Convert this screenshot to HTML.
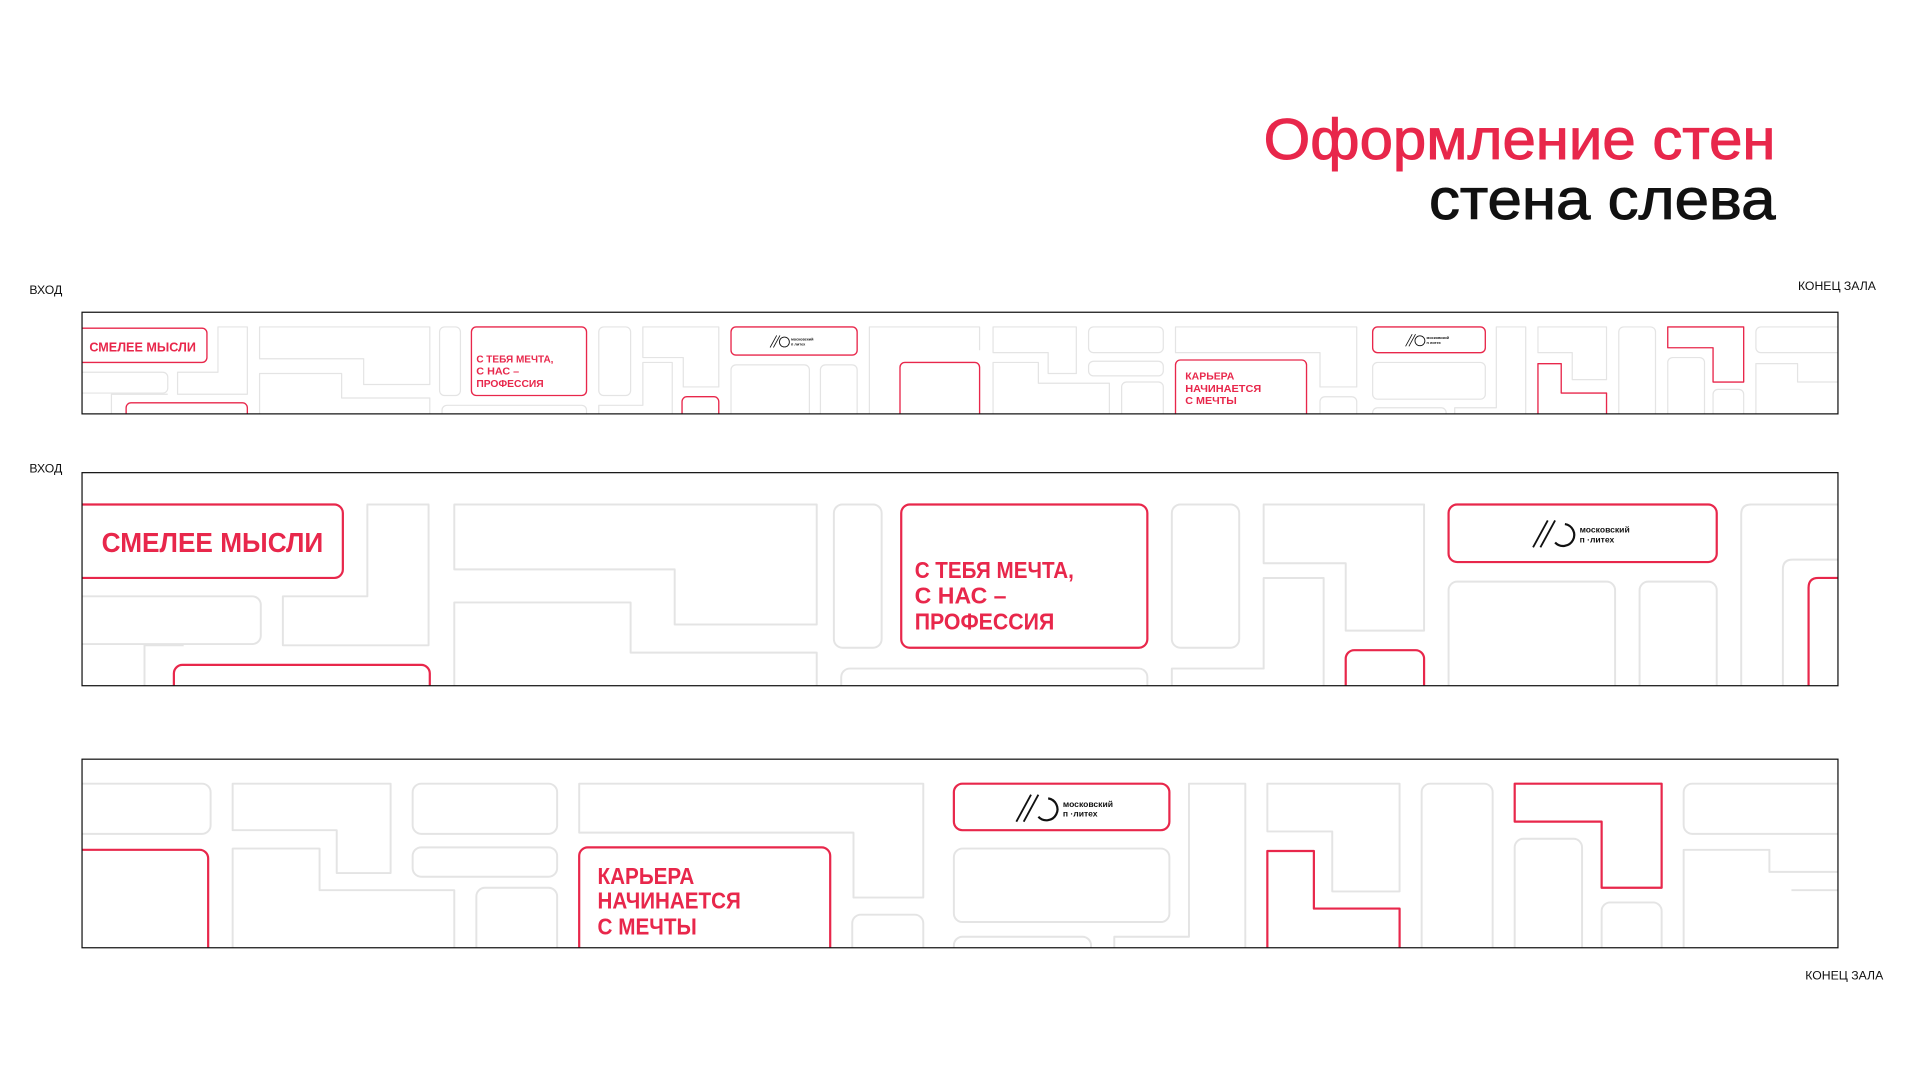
<!DOCTYPE html>
<html><head><meta charset="utf-8"><style>
html,body{margin:0;padding:0;background:#fff;}
svg{display:block}
.g{fill:none;stroke:#e4e4e4;stroke-width:1.6;stroke-linejoin:round}
.g1{fill:none;stroke:#e4e4e4;stroke-width:1;stroke-linejoin:round}
.r{fill:none;stroke:#e8274b;stroke-width:1.8;stroke-linejoin:round}
.r1{fill:none;stroke:#e8274b;stroke-width:1.1;stroke-linejoin:round}
.t{font-family:"Liberation Sans",sans-serif;font-weight:bold;fill:#e8274b}
.lbl{font-family:"Liberation Sans",sans-serif;font-size:10px;fill:#111}
</style></head><body>
<svg width="1920" height="1080" viewBox="0 0 1568 882" xmlns="http://www.w3.org/2000/svg">
<defs>
<clipPath id="c1"><rect x="67" y="255" width="1434" height="83"/></clipPath>
<clipPath id="c2"><rect x="67" y="386" width="1434" height="174"/></clipPath>
<clipPath id="c3"><rect x="67" y="620" width="1434" height="154"/></clipPath>
</defs>

<text x="1032" y="130" textLength="418" lengthAdjust="spacingAndGlyphs" font-family="Liberation Sans, sans-serif" font-size="47" fill="#e8274b" stroke="#e8274b" stroke-width="0.8">Оформление стен</text>
<text x="1167" y="179" textLength="283" lengthAdjust="spacingAndGlyphs" font-family="Liberation Sans, sans-serif" font-size="47" fill="#111" stroke="#111" stroke-width="0.8">стена слева</text>

<text class="lbl" x="24" y="240">ВХОД</text>
<text class="lbl" x="1532" y="237" text-anchor="end">КОНЕЦ ЗАЛА</text>
<text class="lbl" x="24" y="386">ВХОД</text>
<text class="lbl" x="1538" y="800" text-anchor="end">КОНЕЦ ЗАЛА</text>

<!-- PANEL 1 -->
<g clip-path="url(#c1)">
<rect class="r1" x="60" y="268" width="109" height="28" rx="4"/>
<text class="t" x="73" y="287" font-size="10.5" textLength="87" lengthAdjust="spacingAndGlyphs">СМЕЛЕЕ МЫСЛИ</text>
<rect class="g1" x="60" y="304" width="77" height="17" rx="4"/>
<path class="g1" d="M178 267H202V322H145V304H178Z"/>
<path class="g1" d="M91 345V322H137"/>
<rect class="r1" x="103" y="329" width="99" height="20" rx="4"/>
<path class="g1" d="M212 267H351V314H297V293H212Z"/>
<path class="g1" d="M212 345V305H279V325H351V345"/>
<rect class="g1" x="359" y="267" width="17" height="56" rx="4"/>
<rect class="g1" x="361" y="331" width="118" height="20" rx="4"/>
<rect class="r1" x="385" y="267" width="94" height="56" rx="4"/>
<text class="t" font-size="8.6"><tspan x="389" y="296" textLength="63" lengthAdjust="spacingAndGlyphs">С ТЕБЯ МЕЧТА,</tspan><tspan x="389" y="306" textLength="35" lengthAdjust="spacingAndGlyphs">С НАС –</tspan><tspan x="389" y="316" textLength="55" lengthAdjust="spacingAndGlyphs">ПРОФЕССИЯ</tspan></text>
<rect class="g1" x="489" y="267" width="26" height="56" rx="4"/>
<path class="g1" d="M525 267H587V316H558V292H525Z"/>
<path class="g1" d="M489 345V331H525V296H549V345"/>
<rect class="r1" x="557" y="324" width="30" height="25" rx="4"/>
<rect class="r1" x="597" y="267" width="103" height="23" rx="4"/>
<g transform="translate(628,273) scale(0.45)"><line x1="2" y1="24" x2="14" y2="2" stroke="#111" stroke-width="1.5"/><line x1="8" y1="24" x2="20" y2="2" stroke="#111" stroke-width="1.5"/><circle cx="28" cy="14" r="9" fill="none" stroke="#111" stroke-width="1.6"/><text x="40" y="11" font-size="7" font-family="Liberation Sans" font-weight="bold" fill="#111">московский</text><text x="40" y="20" font-size="7" font-family="Liberation Sans" font-weight="bold" fill="#111">п литех</text></g>
<rect class="g1" x="597" y="298" width="64" height="50" rx="4"/>
<rect class="g1" x="670" y="298" width="30" height="50" rx="4"/>
<path class="g1" d="M710 345V267H800V286"/>
<rect class="r1" x="735" y="296" width="65" height="55" rx="4"/>
<path class="g1" d="M811 267H879V305H856V288H811Z"/>
<path class="g1" d="M811 345V296H848V313H906V345"/>
<rect class="g1" x="889" y="267" width="61" height="21" rx="4"/>
<rect class="g1" x="889" y="295" width="61" height="12" rx="4"/>
<rect class="g1" x="916" y="312" width="34" height="40" rx="4"/>
<path class="g1" d="M960 267H1108V316H1078V288H960Z"/>
<rect class="r1" x="960" y="294" width="107" height="60" rx="4"/>
<text class="t" font-size="8.6"><tspan x="968" y="310" textLength="40" lengthAdjust="spacingAndGlyphs">КАРЬЕРА</tspan><tspan x="968" y="320" textLength="62" lengthAdjust="spacingAndGlyphs">НАЧИНАЕТСЯ</tspan><tspan x="968" y="330" textLength="42" lengthAdjust="spacingAndGlyphs">С МЕЧТЫ</tspan></text>
<rect class="g1" x="1078" y="324" width="30" height="30" rx="4"/>
<rect class="r1" x="1121" y="267" width="92" height="21" rx="4"/>
<g transform="translate(1147,272) scale(0.45)"><line x1="2" y1="24" x2="14" y2="2" stroke="#111" stroke-width="1.5"/><line x1="8" y1="24" x2="20" y2="2" stroke="#111" stroke-width="1.5"/><circle cx="28" cy="14" r="9" fill="none" stroke="#111" stroke-width="1.6"/><text x="40" y="11" font-size="7" font-family="Liberation Sans" font-weight="bold" fill="#111">московский</text><text x="40" y="20" font-size="7" font-family="Liberation Sans" font-weight="bold" fill="#111">п литех</text></g>
<rect class="g1" x="1121" y="296" width="92" height="30" rx="4"/>
<rect class="g1" x="1121" y="333" width="60" height="20" rx="4"/>
<path class="g1" d="M1188 345V333H1222V267H1246V345"/>
<path class="g1" d="M1256 267H1312V310H1284V288H1256Z"/>
<path class="r1" d="M1256 345V297H1275V321H1312V345"/>
<rect class="g1" x="1322" y="267" width="30" height="85" rx="4"/>
<path class="r1" d="M1362 267H1424V312H1399V284H1362Z"/>
<rect class="g1" x="1362" y="292" width="30" height="60" rx="4"/>
<rect class="g1" x="1399" y="318" width="25" height="35" rx="4"/>
<rect class="g1" x="1434" y="267" width="80" height="21" rx="4"/>
<path class="g1" d="M1434 345V297H1468V312H1510"/>
</g>
<rect x="67" y="255" width="1434" height="83" fill="none" stroke="#111" stroke-width="1"/>

<!-- PANEL 2 -->
<g clip-path="url(#c2)">
<rect class="r" x="55" y="412" width="225" height="60" rx="7"/>
<text class="t" x="83" y="451" font-size="23" textLength="181" lengthAdjust="spacingAndGlyphs">СМЕЛЕЕ МЫСЛИ</text>
<rect class="g" x="55" y="487" width="158" height="39" rx="7"/>
<path class="g" d="M300 412H350V527H231V487H300Z"/>
<path class="g" d="M118 570V527H150"/>
<rect class="r" x="142" y="543" width="209" height="40" rx="7"/>
<path class="g" d="M371 412H667V510H551V465H371Z"/>
<path class="g" d="M371 570V492H515V533H667V570"/>
<rect class="g" x="681" y="412" width="39" height="117" rx="7"/>
<rect class="g" x="687" y="546" width="250" height="30" rx="7"/>
<rect class="r" x="736" y="412" width="201" height="117" rx="7"/>
<text class="t" font-size="18.5"><tspan x="747" y="472" textLength="130" lengthAdjust="spacingAndGlyphs">С ТЕБЯ МЕЧТА,</tspan><tspan x="747" y="493" textLength="75" lengthAdjust="spacingAndGlyphs">С НАС –</tspan><tspan x="747" y="514" textLength="114" lengthAdjust="spacingAndGlyphs">ПРОФЕССИЯ</tspan></text>
<rect class="g" x="957" y="412" width="55" height="117" rx="7"/>
<path class="g" d="M1032 412H1163V515H1099V460H1032Z"/>
<path class="g" d="M957 570V546H1032V472H1081V570"/>
<rect class="r" x="1099" y="531" width="64" height="45" rx="7"/>
<rect class="r" x="1183" y="412" width="219" height="47" rx="7"/>
<g transform="translate(1250,423)"><line x1="2" y1="24" x2="14" y2="2" stroke="#111" stroke-width="1.5"/><line x1="8" y1="24" x2="20" y2="2" stroke="#111" stroke-width="1.5"/><path d="M20 20 A9 9 0 1 0 28 5" fill="none" stroke="#111" stroke-width="1.8"/><text x="40" y="12" font-size="7" font-family="Liberation Sans" font-weight="bold" fill="#111">московский</text><text x="40" y="20" font-size="7" font-family="Liberation Sans" font-weight="bold" fill="#111">п ·литех</text></g>
<rect class="g" x="1183" y="475" width="136" height="100" rx="7"/>
<rect class="g" x="1339" y="475" width="63" height="100" rx="7"/>
<path class="g" d="M1422 570V420Q1422 412 1430 412H1510"/>
<path class="g" d="M1456 570V465Q1456 457 1464 457H1510"/>
<path class="r" d="M1477 570V480Q1477 472 1485 472H1510"/>
</g>
<rect x="67" y="386" width="1434" height="174" fill="none" stroke="#111" stroke-width="1"/>

<!-- PANEL 3 -->
<g clip-path="url(#c3)">
<rect class="g" x="55" y="640" width="117" height="41" rx="7"/>
<rect class="r" x="55" y="694" width="115" height="90" rx="7"/>
<path class="g" d="M190 640H319V713H275V678H190Z"/>
<path class="g" d="M190 784V693H261V727H371V784"/>
<rect class="g" x="337" y="640" width="118" height="41" rx="7"/>
<rect class="g" x="337" y="692" width="118" height="24" rx="7"/>
<rect class="g" x="389" y="725" width="66" height="60" rx="7"/>
<path class="g" d="M473 640H754V733H697V680H473Z"/>
<rect class="r" x="473" y="692" width="205" height="92" rx="7"/>
<text class="t" font-size="18.5"><tspan x="488" y="722" textLength="79" lengthAdjust="spacingAndGlyphs">КАРЬЕРА</tspan><tspan x="488" y="742" textLength="117" lengthAdjust="spacingAndGlyphs">НАЧИНАЕТСЯ</tspan><tspan x="488" y="763" textLength="81" lengthAdjust="spacingAndGlyphs">С МЕЧТЫ</tspan></text>
<rect class="g" x="696" y="747" width="58" height="40" rx="7"/>
<rect class="r" x="779" y="640" width="176" height="38" rx="7"/>
<g transform="translate(828,647)"><line x1="2" y1="24" x2="14" y2="2" stroke="#111" stroke-width="1.5"/><line x1="8" y1="24" x2="20" y2="2" stroke="#111" stroke-width="1.5"/><path d="M20 20 A9 9 0 1 0 28 5" fill="none" stroke="#111" stroke-width="1.8"/><text x="40" y="12" font-size="7" font-family="Liberation Sans" font-weight="bold" fill="#111">московский</text><text x="40" y="20" font-size="7" font-family="Liberation Sans" font-weight="bold" fill="#111">п ·литех</text></g>
<rect class="g" x="779" y="693" width="176" height="60" rx="7"/>
<rect class="g" x="779" y="765" width="112" height="30" rx="7"/>
<path class="g" d="M910 784V765H971V640H1017V784"/>
<path class="g" d="M1035 640H1143V728H1088V679H1035Z"/>
<path class="r" d="M1035 784V695H1073V742H1143V784"/>
<rect class="g" x="1161" y="640" width="58" height="150" rx="7"/>
<path class="r" d="M1237 640H1357V725H1308V671H1237Z"/>
<rect class="g" x="1237" y="685" width="55" height="100" rx="7"/>
<rect class="g" x="1308" y="737" width="49" height="50" rx="7"/>
<rect class="g" x="1375" y="640" width="140" height="41" rx="7"/>
<path class="g" d="M1375 784V694H1445V712H1510"/>
<path class="g" d="M1463 727H1510"/>
</g>
<rect x="67" y="620" width="1434" height="154" fill="none" stroke="#111" stroke-width="1"/>
</svg>
</body></html>
